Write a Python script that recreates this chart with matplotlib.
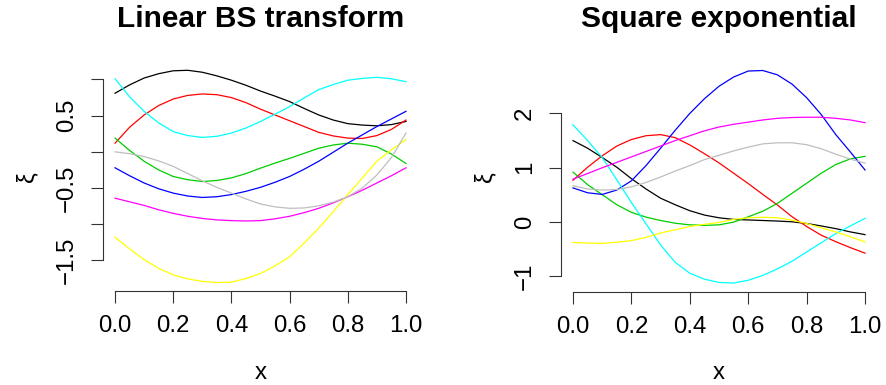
import matplotlib
matplotlib.use("Agg")
import matplotlib.pyplot as plt
import numpy as np

plt.rcParams['font.family'] = ['Liberation Sans', 'DejaVu Sans']

# sample positions (read every 0.05)
x_vals = [0.00, 0.05, 0.10, 0.15, 0.20, 0.25, 0.30, 0.35, 0.40, 0.45, 0.50,
          0.55, 0.60, 0.65, 0.70, 0.75, 0.80, 0.85, 0.90, 0.95, 1.00]

# Left panel: Linear BS transform
bs_black   = [0.81, 0.925, 1.02, 1.08, 1.12, 1.127, 1.10, 1.05, 0.99, 0.92, 0.84,
              0.77, 0.695, 0.60, 0.51, 0.44, 0.39, 0.37, 0.36, 0.377, 0.42]
bs_red     = [0.12, 0.34, 0.51, 0.64, 0.73, 0.78, 0.80, 0.79, 0.75, 0.68, 0.59,
              0.51, 0.43, 0.35, 0.27, 0.22, 0.19, 0.185, 0.225, 0.31, 0.44]
bs_green   = [0.19, 0.02, -0.13, -0.25, -0.34, -0.385, -0.41, -0.395, -0.36, -0.30, -0.225,
              -0.155, -0.09, -0.02, 0.05, 0.095, 0.12, 0.105, 0.07, -0.03, -0.16]
bs_blue    = [-0.22, -0.33, -0.43, -0.51, -0.57, -0.61, -0.63, -0.62, -0.59, -0.545, -0.49,
              -0.42, -0.34, -0.24, -0.13, -0.005, 0.12, 0.235, 0.35, 0.455, 0.56]
bs_cyan    = [1.01, 0.76, 0.56, 0.40, 0.28, 0.225, 0.20, 0.215, 0.26, 0.33, 0.42,
              0.52, 0.625, 0.745, 0.86, 0.93, 0.99, 1.015, 1.03, 1.01, 0.97]
bs_magenta = [-0.64, -0.69, -0.74, -0.80, -0.85, -0.89, -0.92, -0.94, -0.95, -0.955, -0.95,
              -0.925, -0.89, -0.84, -0.78, -0.705, -0.62, -0.53, -0.43, -0.33, -0.22]
bs_yellow  = [-1.18, -1.34, -1.49, -1.61, -1.70, -1.755, -1.79, -1.805, -1.80, -1.75, -1.68,
              -1.575, -1.45, -1.26, -1.055, -0.825, -0.59, -0.36, -0.13, 0.03, 0.17]
bs_gray    = [0.00, -0.025, -0.065, -0.125, -0.20, -0.30, -0.40, -0.49, -0.57, -0.65, -0.72,
              -0.76, -0.78, -0.775, -0.745, -0.695, -0.62, -0.50, -0.32, -0.08, 0.26]

# Right panel: Square exponential
se_black   = [1.50, 1.36, 1.19, 1.01, 0.80, 0.61, 0.44, 0.32, 0.21, 0.13, 0.08,
              0.05, 0.04, 0.03, 0.02, 0.006, -0.025, -0.07, -0.12, -0.18, -0.23]
se_red     = [0.77, 1.01, 1.22, 1.40, 1.52, 1.59, 1.61, 1.555, 1.42, 1.26, 1.09,
              0.90, 0.71, 0.51, 0.315, 0.10, -0.08, -0.24, -0.36, -0.47, -0.57]
se_green   = [0.92, 0.69, 0.505, 0.32, 0.18, 0.092, 0.03, -0.02, -0.05, -0.06, -0.05,
              0.0, 0.098, 0.20, 0.345, 0.53, 0.715, 0.90, 1.06, 1.165, 1.21]
se_blue    = [0.63, 0.54, 0.51, 0.59, 0.76, 1.04, 1.36, 1.69, 2.00, 2.27, 2.50,
              2.67, 2.78, 2.79, 2.71, 2.54, 2.29, 1.98, 1.61, 1.29, 0.96]
se_cyan    = [1.79, 1.50, 1.19, 0.78, 0.36, -0.03, -0.42, -0.74, -0.94, -1.05, -1.11,
              -1.12, -1.07, -0.98, -0.86, -0.72, -0.55, -0.38, -0.21, -0.07, 0.07]
se_magenta = [0.79, 0.895, 1.00, 1.10, 1.20, 1.30, 1.40, 1.50, 1.59, 1.68, 1.75,
              1.80, 1.84, 1.88, 1.91, 1.925, 1.93, 1.93, 1.91, 1.88, 1.83]
se_yellow  = [-0.375, -0.385, -0.39, -0.37, -0.34, -0.28, -0.20, -0.14, -0.08, -0.04, -0.005,
              0.05, 0.08, 0.09, 0.08, 0.036, -0.025, -0.106, -0.18, -0.27, -0.365]
se_gray    = [0.67, 0.61, 0.59, 0.60, 0.65, 0.73, 0.83, 0.94, 1.04, 1.15, 1.23,
              1.31, 1.38, 1.44, 1.46, 1.46, 1.425, 1.35, 1.25, 1.16, 1.085]

colors = ['#000000', '#FF0000', '#00CD00', '#0000FF', '#00FFFF', '#FF00FF', '#FFFF00', '#BEBEBE']

titles = ['Linear BS transform', 'Square exponential']
x_ticks = [0.0, 0.2, 0.4, 0.6, 0.8, 1.0]
x_ticklabels = ['0.0', '0.2', '0.4', '0.6', '0.8', '1.0']
left_yticks = [-1.5, -1.0, -0.5, 0.0, 0.5, 1.0]
left_yticklabels = ['\u22121.5', '', '\u22120.5', '', '0.5', '']
right_yticks = [-1, 0, 1, 2]
right_yticklabels = ['\u22121', '0', '1', '2']

W, H = 886, 385
fig = plt.figure(figsize=(W / 100, H / 100), dpi=100)

panels = [
    dict(series=[bs_black, bs_red, bs_green, bs_blue, bs_cyan, bs_magenta, bs_yellow, bs_gray],
         rect=(103.4, 61.8, 314.2, 229.2), yticks=left_yticks, yticklabels=left_yticklabels,
         title=titles[0]),
    dict(series=[se_black, se_red, se_green, se_blue, se_cyan, se_magenta, se_yellow, se_gray],
         rect=(561.3, 62.0, 315.4, 229.5), yticks=right_yticks, yticklabels=right_yticklabels,
         title=titles[1]),
]

fs_tick = 17.3
fs_title = 21.5
for p in panels:
    l, t, w, h = p['rect']
    ax = fig.add_axes([l / W, 1 - (t + h) / H, w / W, h / H])
    for s, c in zip(p['series'], colors):
        ax.plot(x_vals, s, color=c, lw=0.9, solid_joinstyle='round')
    allv = np.concatenate([np.asarray(s) for s in p['series']])
    lo, hi = allv.min(), allv.max()
    pad = 0.04 * (hi - lo)
    ax.set_ylim(lo - pad, hi + pad)
    ax.set_xlim(-0.04, 1.04)
    for side in ['top', 'right']:
        ax.spines[side].set_visible(False)
    ax.spines['left'].set_bounds(p['yticks'][0], p['yticks'][-1])
    ax.spines['bottom'].set_bounds(0, 1)
    for side in ['left', 'bottom']:
        ax.spines[side].set_linewidth(0.8)
        ax.spines[side].set_color('#333333')
    ax.set_xticks(x_ticks)
    ax.set_xticklabels(x_ticklabels, fontsize=fs_tick)
    ax.set_yticks(p['yticks'])
    ax.set_yticklabels(p['yticklabels'], fontsize=fs_tick, rotation=90, va='center')
    ax.tick_params(axis='both', length=8.35, width=0.8, color='#333333')
    ax.tick_params(axis='x', pad=9)
    ax.tick_params(axis='y', pad=10)
    cx = (l + w / 2) / W
    fig.text(cx, 1 - 26.7 / H, p['title'], ha='center', va='baseline',
             fontsize=fs_title, fontweight='bold')
    fig.text(cx, 1 - 379 / H, 'x', ha='center', va='baseline', fontsize=fs_tick)
    fig.text((l - 76) / W, 1 - (t + h / 2) / H, '\u03be', ha='center', va='center',
             rotation=90, fontsize=fs_tick)

fig.savefig('out.png', dpi=100)
